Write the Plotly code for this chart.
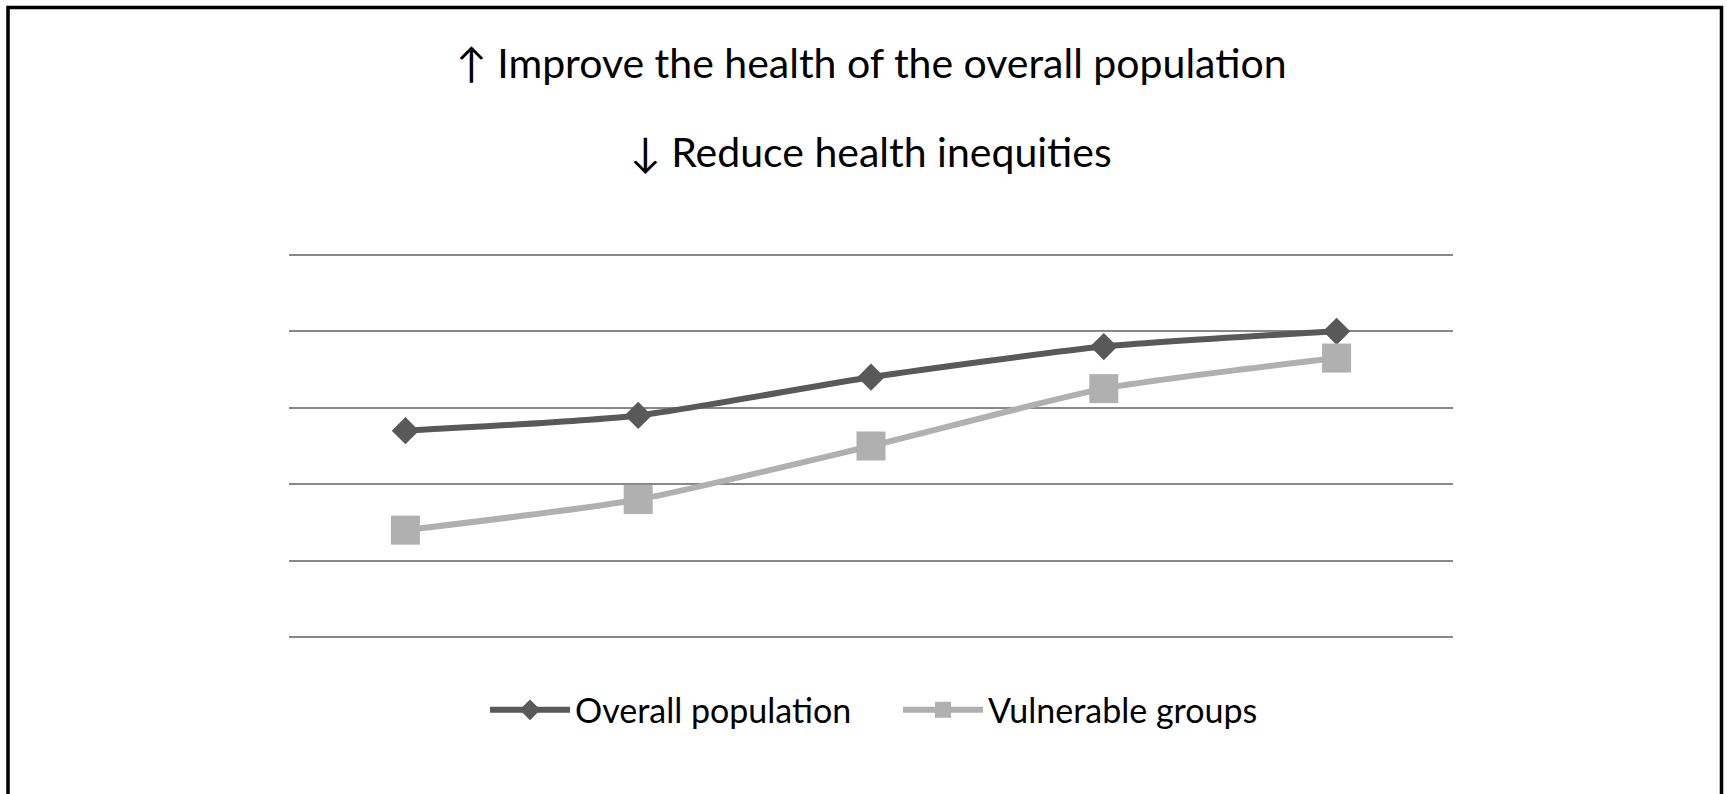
import plotly.graph_objects as go

# Stages along the horizontal axis (unlabelled in the figure)
stages = ["1", "2", "3", "4", "5"]
overall_population = [2.7, 2.9, 3.4, 3.8, 4.0]
vulnerable_groups = [1.4, 1.8, 2.5, 3.25, 3.65]

title_up = "↑ Improve the health of the overall population"
title_down = "↓ Reduce health inequities"

W, H = 1727, 794
L, R = 289, 274
T, B = 251.2, 153.2
plot_h = H - T - B
plot_w = W - L - R


def py(pixel_y):
    """Convert a page pixel row into paper y."""
    return (H - B - pixel_y) / plot_h


def px(pixel_x):
    return (pixel_x - L) / plot_w


FONT = "Lato"

fig = go.Figure()
fig.add_trace(go.Scatter(
    x=stages, y=overall_population, name="Overall population",
    mode="lines+markers",
    line=dict(color="#595959", width=6, shape="spline", smoothing=0.6),
    marker=dict(symbol="diamond", size=21, color="#595959"),
))
fig.add_trace(go.Scatter(
    x=stages, y=vulnerable_groups, name="Vulnerable groups",
    mode="lines+markers",
    line=dict(color="#b0b0b0", width=6, shape="spline", smoothing=0.6),
    marker=dict(symbol="square", size=29, color="#b0b0b0"),
))

fig.update_layout(
    width=W, height=H,
    margin=dict(l=L, r=R, t=T, b=B, pad=0),
    paper_bgcolor="white", plot_bgcolor="white",
    font=dict(family=FONT, color="black"),
    showlegend=True,
    legend=dict(
        orientation="h", x=px(485), xanchor="left",
        y=py(710), yanchor="middle",
        font=dict(size=34, family=FONT, color="black"),
        itemwidth=80, entrywidth=318, bgcolor="rgba(0,0,0,0)",
    ),
    xaxis=dict(
        type="category", range=[-0.5, 4.5],
        showticklabels=False, showgrid=False, zeroline=False,
        showline=False, ticks="",
    ),
    yaxis=dict(
        range=[-0.05, 5.05], dtick=1, tick0=0,
        showticklabels=False, showgrid=True, gridcolor="#888888",
        gridwidth=2.2, zeroline=False, showline=False, ticks="",
    ),
    annotations=[
        dict(text=title_up, xref="paper", yref="paper", x=0.5, y=py(63),
             xanchor="center", yanchor="middle", showarrow=False,
             font=dict(size=41, family=FONT, color="black")),
        dict(text=title_down, xref="paper", yref="paper", x=0.5, y=py(152),
             xanchor="center", yanchor="middle", showarrow=False,
             font=dict(size=41, family=FONT, color="black")),
    ],
    shapes=[
        dict(type="rect", xref="paper", yref="paper",
             x0=px(8), x1=px(1721.5), y0=py(860), y1=py(8),
             line=dict(color="black", width=3.5), fillcolor="rgba(0,0,0,0)",
             layer="above"),
    ],
)

fig.write_html("out.html")
